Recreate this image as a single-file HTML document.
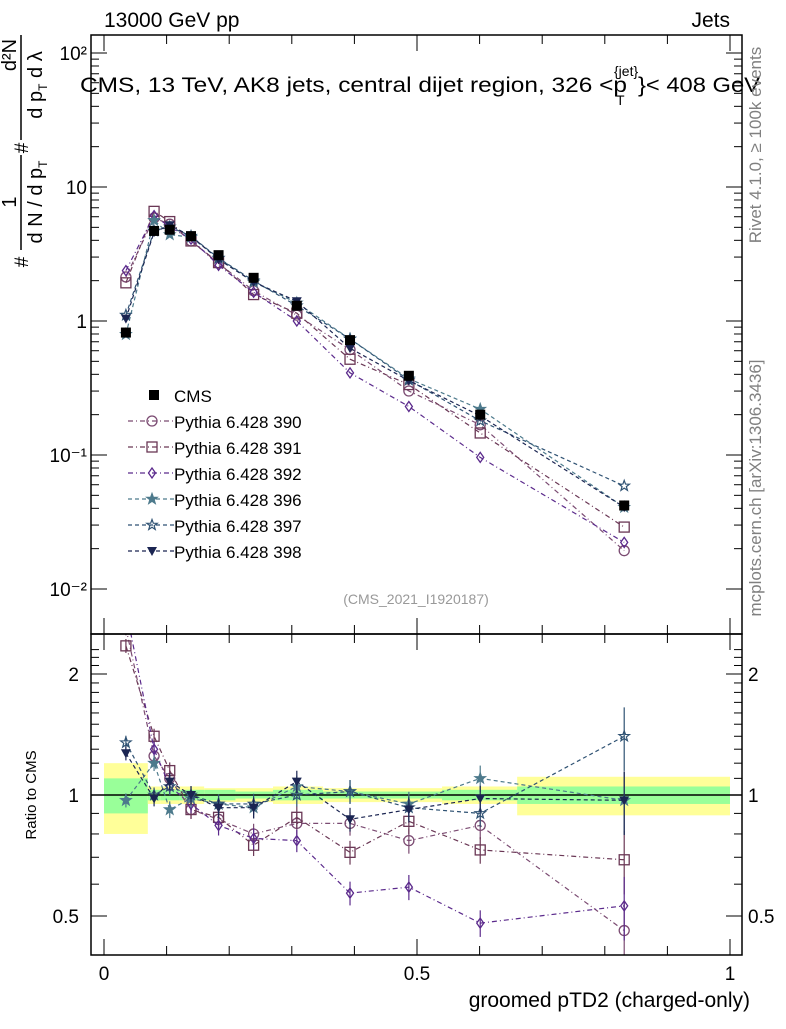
<!DOCTYPE html>
<html><head><meta charset="utf-8"><style>
body{margin:0;background:#fff;}
svg text{font-family:"Liberation Sans",sans-serif;}
</style></head><body>
<svg id="c" width="786" height="1024" viewBox="0 0 786 1024" xmlns="http://www.w3.org/2000/svg">
<g id="bands"></g>
<g id="marks"></g>
<g id="axes"></g>
</svg>
<script>
const binEdges=[0,0.07,0.09,0.12,0.16,0.21,0.27,0.35,0.44,0.54,0.66,1.0];
const xCenters=[0.035,0.08,0.105,0.139,0.183,0.239,0.308,0.393,0.487,0.601,0.831];
const cmsValues=[0.82,4.7,4.8,4.3,3.1,2.1,1.3,0.72,0.39,0.2,0.042];
const cmsRelErrYellow=[0.2,0.05,0.05,0.05,0.04,0.04,0.05,0.04,0.04,0.05,0.11];
const cmsRelErrGreen=[0.1,0.03,0.03,0.03,0.03,0.02,0.03,0.02,0.02,0.03,0.05];
const r390=[2.6,1.25,1.1,0.92,0.87,0.8,0.85,0.85,0.77,0.84,0.46];
const r391=[2.35,1.4,1.15,0.92,0.88,0.75,0.88,0.72,0.86,0.73,0.69];
const r392=[2.9,1.3,1.05,0.95,0.84,0.78,0.77,0.57,0.59,0.48,0.53];
const r396=[0.97,1.2,0.92,0.98,0.95,0.93,1.05,1.02,0.95,1.1,0.97];
const r397=[1.35,1.0,1.05,1.0,0.95,0.95,1.0,1.02,0.93,0.9,1.4];
const r398=[1.27,0.98,1.08,1.0,0.93,0.93,1.08,0.87,0.92,0.98,0.97];
const seriesNames=["Pythia 6.428 390","Pythia 6.428 391","Pythia 6.428 392","Pythia 6.428 396","Pythia 6.428 397","Pythia 6.428 398"];
const ratioTicks=[0.5,1,2];
const mainTicks=[0.01,0.1,1,10,100];
const xTicks=[0,0.5,1];

const NS="http://www.w3.org/2000/svg";
const L=91,R=742,T=35,MB=634,RB=955;
const X=v=>104+626*v;
const YM=v=>321-134*Math.log10(v);
const YR=v=>795-121*Math.log2(v);
function mk(tag,at,parent){const e=document.createElementNS(NS,tag);for(const k in at)e.setAttribute(k,at[k]);(parent||document.getElementById('marks')).appendChild(e);return e;}
const bands=document.getElementById('bands'),axes=document.getElementById('axes'),marks=document.getElementById('marks');

const defs=mk('defs',{},document.getElementById('c'));
const cp1=mk('clipPath',{id:'cm'},defs);mk('rect',{x:L,y:T,width:R-L,height:MB-T},cp1);
const cp2=mk('clipPath',{id:'cr'},defs);mk('rect',{x:L,y:MB,width:R-L,height:RB-MB},cp2);
const gm=mk('g',{'clip-path':'url(#cm)'},marks);
const gr=mk('g',{'clip-path':'url(#cr)'},marks);

for(let i=0;i<xCenters.length;i++){
  const x0=X(binEdges[i]),x1=X(binEdges[i+1]);
  const y=mk('rect',{x:x0,y:YR(1+cmsRelErrYellow[i]),width:x1-x0,height:YR(1-cmsRelErrYellow[i])-YR(1+cmsRelErrYellow[i]),fill:'#ffff99'},bands);
  
  
  const g=mk('rect',{x:x0,y:YR(1+cmsRelErrGreen[i]),width:x1-x0,height:YR(1-cmsRelErrGreen[i])-YR(1+cmsRelErrGreen[i]),fill:'#99ff99'},bands);
  
  
}
mk('line',{x1:L,x2:R,y1:YR(1),y2:YR(1),stroke:'#000','stroke-width':1.5},bands);

const ratios=[r390,r391,r392,r396,r397,r398];
const colors=['#7b4b72','#6a3755','#5b2a8c','#4d7a8c','#2f5273','#1b2552'];
const dashes=['5,3,1,3','5,3,1,3','5,3,1,3','4,3','4,3','4,3'];
const shapes=['circle','square','diamond','star','staro','tri'];
function marker(g,shape,x,y,c,s){
  s=s||5;
  if(shape==='circle')return mk('circle',{cx:x,cy:y,r:s,fill:'none',stroke:c,'stroke-width':1.3},g);
  if(shape==='square')return mk('rect',{x:x-s,y:y-s,width:2*s,height:2*s,fill:'none',stroke:c,'stroke-width':1.3},g);
  if(shape==='diamond')return mk('polygon',{points:`${x},${y-s} ${x+s*0.7},${y} ${x},${y+s} ${x-s*0.7},${y}`,fill:'none',stroke:c,'stroke-width':1.3},g);
  if(shape==='sq')return mk('rect',{x:x-s,y:y-s,width:2*s,height:2*s,fill:c},g);
  if(shape==='tri')return mk('polygon',{points:`${x-s},${y-s*0.8} ${x+s},${y-s*0.8} ${x},${y+s}`,fill:c},g);
  let p='';for(let k=0;k<10;k++){const a=-Math.PI/2+k*Math.PI/5,rr=k%2?s*0.45:s*1.1;p+=`${x+rr*Math.cos(a)},${y+rr*Math.sin(a)} `;}
  return mk('polygon',{points:p,fill:shape==='star'?c:'none',stroke:c,'stroke-width':1.2},g);
}
ratios.forEach((r,si)=>{
  const c=colors[si];
  const ptsM=r.map((v,i)=>`${X(xCenters[i])},${YM(v*cmsValues[i])}`).join(' ');
  const lm=mk('polyline',{points:ptsM,fill:'none',stroke:c,'stroke-width':1.2,'stroke-dasharray':dashes[si]},gm);
  
  
  const ptsR=r.map((v,i)=>`${X(xCenters[i])},${YR(v)}`).join(' ');
  const lr=mk('polyline',{points:ptsR,fill:'none',stroke:c,'stroke-width':1.2,'stroke-dasharray':dashes[si]},gr);
  
  
  r.forEach((v,i)=>{
    const x=X(xCenters[i]);
    const e=0.04+0.04*i/10+(i==10?0.1:0);
    mk('line',{x1:x,x2:x,y1:YR(v*(1+e)),y2:YR(v*(1-e)),stroke:c,'stroke-width':1.2},gr);
    const m1=marker(gm,shapes[si],x,YM(v*cmsValues[i]),c);
    
    
    const m2=marker(gr,shapes[si],x,YR(v),c);
    
    
  });
});
cmsValues.forEach((v,i)=>{
  const m=marker(gm,'sq',X(xCenters[i]),YM(v),'#000',5);
  
  
});

mk('rect',{x:L,y:T,width:R-L,height:MB-T,fill:'none',stroke:'#000','stroke-width':1.5},axes);
mk('rect',{x:L,y:MB,width:R-L,height:RB-MB,fill:'none',stroke:'#000','stroke-width':1.5},axes);
function txt(s,at,name){const t=mk('text',at,axes);t.textContent=s;return t;}
mainTicks.forEach(v=>{
  const y=YM(v);
  mk('line',{x1:L,x2:L+16,y1:y,y2:y,stroke:'#000'},axes);mk('line',{x1:R-16,x2:R,y1:y,y2:y,stroke:'#000'},axes);
  for(let k=2;k<10;k++){const yy=YM(v*k);if(yy>T&&yy<MB){mk('line',{x1:L,x2:L+8,y1:yy,y2:yy,stroke:'#000'},axes);mk('line',{x1:R-8,x2:R,y1:yy,y2:yy,stroke:'#000'},axes);}}
  const lbl=v===1?'1':v===10?'10':v===100?'10²':v===0.1?'10⁻¹':'10⁻²';
  txt(lbl,{x:L-4,y:y+7,'text-anchor':'end','font-size':19},'y-tick-label');
});
ratioTicks.forEach(v=>{
  const y=YR(v);
  mk('line',{x1:L,x2:L+16,y1:y,y2:y,stroke:'#000'},axes);mk('line',{x1:R-16,x2:R,y1:y,y2:y,stroke:'#000'},axes);
  txt(String(v),{x:L-12,y:y+7,'text-anchor':'end','font-size':19},'ratio-tick-label');
  txt(String(v),{x:R+6,y:y+7,'font-size':19},'ratio-tick-label-right');
});
[0.6,0.7,0.8,0.9,1.1,1.2,1.3,1.4,1.5,1.6,1.7,1.8,1.9,2.1,2.2,2.3].forEach(v=>{const y=YR(v);mk('line',{x1:L,x2:L+8,y1:y,y2:y,stroke:'#000'},axes);mk('line',{x1:R-8,x2:R,y1:y,y2:y,stroke:'#000'},axes);});
for(let k=0;k<=10;k++){const v=k/10,x=X(v),h=k%5==0?16:9;
  [T,MB].forEach(t=>mk('line',{x1:x,x2:x,y1:t,y2:t+h,stroke:'#000'},axes));
  [MB,RB].forEach(b=>mk('line',{x1:x,x2:x,y1:b-h,y2:b,stroke:'#000'},axes));}
xTicks.forEach(v=>txt(String(v),{x:X(v),y:980,'text-anchor':'middle','font-size':19},'x-tick-label'));
txt('groomed pTD2 (charged-only)',{x:R+8,y:1007,'text-anchor':'end','font-size':21},'x-axis-title');
txt('13000 GeV pp',{x:104,y:27,'font-size':21},'header-left');
txt('Jets',{x:R-12,y:27,'text-anchor':'end','font-size':21},'header-right');
txt('CMS, 13 TeV, AK8 jets, central dijet region, 326 <p',{x:80,y:92,'font-size':21,textLength:547,lengthAdjust:'spacingAndGlyphs'},'plot-title');
txt('T',{x:616,y:105,'font-size':14},'title-sub');
txt('{jet}',{x:614,y:76,'font-size':14},'title-sup');
txt('}< 408 GeV',{x:638,y:92,'font-size':21,textLength:122,lengthAdjust:'spacingAndGlyphs'},'plot-title-end');
txt('(CMS_2021_I1920187)',{x:416,y:604,'text-anchor':'middle','font-size':14,fill:'#999'},'analysis-id');
txt('Ratio to CMS',{x:36,y:795,'text-anchor':'middle','font-size':15,transform:'rotate(-90 36 795)'},'ratio-y-title');
txt('Rivet 4.1.0, ≥ 100k events',{x:761,y:145,'text-anchor':'middle','font-size':17,fill:'#808080',transform:'rotate(-90 761 145)'},'rivet-label');
txt('mcplots.cern.ch [arXiv:1306.3436]',{x:761,y:488,'text-anchor':'middle','font-size':17,fill:'#808080',transform:'rotate(-90 761 488)'},'mcplots-label');
const yt=mk('g',{transform:'rotate(-90)'},axes);

function yl(s,x,y,fs){const t=mk('text',{x:x,y:y,'font-size':fs,'text-anchor':'middle'},yt);t.textContent=s;return t;}
mk('line',{x1:-140,x2:-35,y1:21,y2:21,stroke:'#000','stroke-width':1.5},yt);
mk('line',{x1:-250,x2:-155,y1:21,y2:21,stroke:'#000','stroke-width':1.5},yt);
yl('d²N',-55,16,20);
const d1=yl('',-85,42,20);d1.innerHTML='d p<tspan font-size="12" dy="5">T</tspan><tspan dy="-5"> d λ</tspan>';
yl('1',-202,16,20);
const d2=yl('',-202,42,20);d2.innerHTML='d N / d p<tspan font-size="12" dy="5">T</tspan>';
yl('#',-148,28,19);
yl('#',-262,28,19);
const lg=mk('g',{},axes);
marker(lg,'sq',154,395,'#000',5);
const t0=mk('text',{x:174,y:402,'font-size':17},lg);t0.textContent='CMS';
seriesNames.forEach((n,i)=>{const y=421+26*i;
  const e=mk('g',{},lg);
  mk('line',{x1:128,x2:176,y1:y,y2:y,stroke:colors[i],'stroke-width':1.2,'stroke-dasharray':dashes[i]},e);
  marker(e,shapes[i],152,y,colors[i]);
  const t=mk('text',{x:174,y:y+7,'font-size':17},e);t.textContent=n;});
</script>
</body></html>
